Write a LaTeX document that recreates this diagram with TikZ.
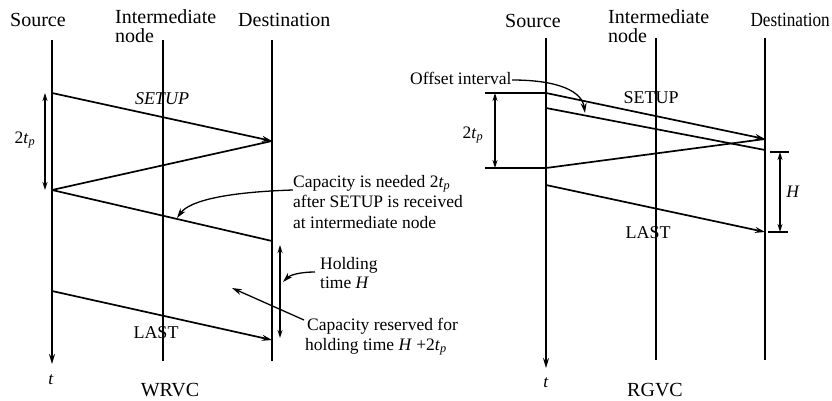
\documentclass[tikz,border=0pt]{standalone}
\usepackage{fontspec}
\usepackage{graphicx}
\setmainfont{Liberation Serif}
\usetikzlibrary{arrows.meta}
\begin{document}
\begin{tikzpicture}[x=1pt,y=-1pt,
  lane/.style={line width=1.6pt},
  msg/.style={line width=1.7pt},
  tipd/.style={-{Stealth[length=10pt,width=6pt]}},
  dbl/.style={line width=1.3pt,{Stealth[length=8pt,width=5pt]}-{Stealth[length=8pt,width=5pt]}},
  thin/.style={line width=1.3pt},
  hdr/.style={font=\fontsize{20}{19}\selectfont, inner sep=0pt},
  lbl/.style={font=\fontsize{17.5}{20}\selectfont, inner sep=0pt},
  msglbl/.style={font=\fontsize{18}{20}\selectfont, inner sep=0pt},
  ttl/.style={font=\fontsize{20}{22}\selectfont, inner sep=0pt}]
\useasboundingbox (0,0) rectangle (832,401);

% ================= LEFT : WRVC =================
\node[hdr, anchor=base west] (srcL) at (10,27) {Source};
\node[hdr, anchor=north west, align=left] (intL) at (115,9) {Intermediate\\node};
\node[hdr, anchor=base west] (dstL) at (238,27) {Destination};

\coordinate (s1t) at (52,40);  \coordinate (s1b) at (52,364);
\coordinate (i1t) at (163,40); \coordinate (i1b) at (163,361);
\coordinate (d1t) at (272,40); \coordinate (d1b) at (272,361);
\draw[lane,tipd] (s1t) -- (s1b);
\draw[lane] (i1t) -- (i1b);
\draw[lane] (d1t) -- (d1b);

\coordinate (a1) at (52,93);  \coordinate (a2) at (272,141);
\coordinate (a3) at (52,190); \coordinate (a4) at (272,241);
\coordinate (a5) at (52,291); \coordinate (a6) at (272,340);
\draw[msg,tipd] (a1) -- (a2);
\draw[msg] (a2) -- (a3);
\draw[msg] (a3) -- (a4);
\draw[msg,tipd] (a5) -- (a6);

\node[msglbl] (setupL) at (162,99) {\textit{SETUP}};
\node[msglbl] (lastL) at (156,333) {LAST};

\coordinate (tp1a) at (45,93); \coordinate (tp1b) at (45,190);
\draw[dbl] (tp1a) -- (tp1b);
\node[lbl] (tpL) at (25,140) {2\textit{t}\textsubscript{\textit{p}}};

\coordinate (h1a) at (280,245); \coordinate (h1b) at (280,338);
\draw[dbl] (h1a) -- (h1b);

\node[lbl, anchor=base west] (capA) at (293,187) {Capacity is needed 2\textit{t}\textsubscript{\textit{p}}};
\node[lbl, anchor=base west] (capB) at (293,207) {after SETUP is received};
\node[lbl, anchor=base west] (capC) at (293,228) {at intermediate node};
\coordinate (capS) at (293,190); \coordinate (capE) at (177,218);
\draw[thin,tipd] (capS) .. controls (230,192) and (190,200) .. (capE);

\node[lbl, anchor=base west] (holdA) at (320,269) {Holding};
\node[lbl, anchor=base west] (holdB) at (320,288) {time \textit{H}};
\coordinate (holdS) at (315,272); \coordinate (holdE) at (283,282);
\draw[thin,tipd] (holdS) .. controls (300,272) and (290,275) .. (holdE);

\node[lbl, anchor=base west] (resA) at (307,330) {Capacity reserved for};
\node[lbl, anchor=base west] (resB) at (305,350) {holding time \textit{H} +2\textit{t}\textsubscript{\textit{p}}};
\coordinate (resS) at (304,320); \coordinate (resE) at (232,288);
\draw[thin,tipd] (resS) -- (resE);

\node[lbl] (tL) at (51,380) {\textit{t}};
\node[ttl] (wrvc) at (170,390) {WRVC};

% ================= RIGHT : RGVC =================
\node[hdr, anchor=base west] (srcR) at (505,28) {Source};
\node[hdr, anchor=north west, align=left] (intR) at (608,9) {Intermediate\\node};
\node[hdr, anchor=base east] (dstR) at (830,27) {\scalebox{0.86}[1]{Destination}};

\coordinate (s2t) at (546,38); \coordinate (s2b) at (546,368);
\coordinate (i2t) at (656,38); \coordinate (i2b) at (656,360);
\coordinate (d2t) at (765,38); \coordinate (d2b) at (765,360);
\draw[lane,tipd] (s2t) -- (s2b);
\draw[lane] (i2t) -- (i2b);
\draw[lane] (d2t) -- (d2b);

\coordinate (h2l) at (485,93);  \coordinate (b1) at (546,93);
\coordinate (b2) at (765,139);
\coordinate (b3) at (546,108);  \coordinate (b4) at (765,150);
\coordinate (b5) at (546,168);  \coordinate (h3l) at (485,168);
\coordinate (b6) at (546,185);  \coordinate (b7) at (765,232);
\draw[msg] (h2l) -- (b1);
\draw[msg,tipd] (b1) -- (b2);
\draw[msg] (b3) -- (b4);
\draw[msg] (b2) -- (b5);
\draw[msg] (h3l) -- (b5);
\draw[msg,tipd] (b6) -- (b7);

\node[msglbl] (setupR) at (651,98) {SETUP};
\node[msglbl] (lastR) at (648,233) {LAST};

\coordinate (tp2a) at (495,93); \coordinate (tp2b) at (495,168);
\draw[dbl] (tp2a) -- (tp2b);
\node[lbl] (tpR) at (473,135) {2\textit{t}\textsubscript{\textit{p}}};

\node[lbl, anchor=base west] (off) at (410,85) {Offset interval};
\coordinate (offS) at (512,80); \coordinate (offE) at (585,113);
\draw[thin,tipd] (offS) .. controls (560,80) and (582,92) .. (offE);

\coordinate (k1a) at (770,152); \coordinate (k1b) at (789,152);
\coordinate (k2a) at (768,232); \coordinate (k2b) at (788,232);
\draw[thin] (k1a) -- (k1b);
\draw[thin] (k2a) -- (k2b);
\coordinate (h2a) at (780,152); \coordinate (h2b) at (780,232);
\draw[dbl] (h2a) -- (h2b);
\node[lbl] (hR) at (793,192) {\textit{H}};

\node[lbl] (tR) at (546,383) {\textit{t}};
\node[ttl] (rgvc) at (655,390) {RGVC};
\end{tikzpicture}
\end{document}
